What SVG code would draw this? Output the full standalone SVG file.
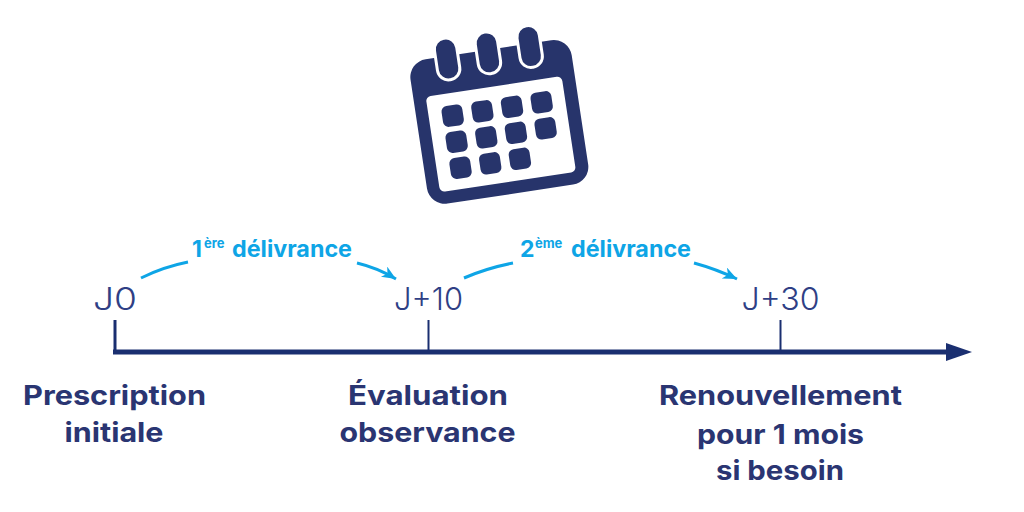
<svg xmlns="http://www.w3.org/2000/svg" width="1024" height="512" viewBox="0 0 1024 512">
<style>
.ink{fill:#27346b}
.cell{fill:#27346b}
.ring{fill:#27346b;stroke:#fff;stroke-width:3}
.day{font-family:"Inter","Liberation Sans",sans-serif;font-weight:300;font-size:31px;fill:#2f3f85;text-anchor:middle}
.step{font-family:"Inter","Liberation Sans",sans-serif;font-weight:700;font-size:27px;fill:#2a3572;text-anchor:middle}
.dose{font-family:"Inter","Liberation Sans",sans-serif;font-weight:700;font-size:23px;fill:#0ea5e6}
.sup{font-size:13px}
.curve{fill:none;stroke:#0ea5e6;stroke-width:3}
.axis{stroke:#1a2f70;fill:none}
</style>
<defs>
<marker id="tip" markerUnits="userSpaceOnUse" markerWidth="18" markerHeight="14" refX="14" refY="6" orient="auto">
<path d="M0 0L14 6L0 12L4 6Z" fill="#0ea5e6"/>
</marker>
<rect id="c" class="cell" x="-10.500" y="-10.500" width="21" height="21" rx="5.500"/>
</defs>

<g id="calendar" transform="translate(499 123) rotate(-8.6)">
<rect class="ink" x="-81" y="-74" width="163" height="146" rx="18"/>
<rect x="-68.600" y="-37" width="137.500" height="96.700" rx="5" fill="#fff"/>
<rect class="ring" x="-53" y="-92" width="22.500" height="42" rx="11"/>
<rect class="ring" x="-11.700" y="-92" width="22.500" height="42" rx="11"/>
<rect class="ring" x="30.500" y="-92" width="22.500" height="42" rx="11"/>
<use href="#c" x="-44.700" y="-14.100"/><use href="#c" x="-14.700" y="-14.100"/><use href="#c" x="15.300" y="-14.100"/><use href="#c" x="45.300" y="-14.100"/>
<use href="#c" x="-44.700" y="12.200"/><use href="#c" x="-14.700" y="12.200"/><use href="#c" x="15.300" y="12.200"/><use href="#c" x="45.300" y="12.200"/>
<use href="#c" x="-44.700" y="38.500"/><use href="#c" x="-14.700" y="38.500"/><use href="#c" x="15.300" y="38.500"/>
</g>

<g id="connectors">
<path class="curve" d="M141 278Q163 267 188 262"/>
<path class="curve" d="M357 263Q378 268 396 279" marker-end="url(#tip)"/>
<path class="curve" d="M464 278Q487 268 513 263"/>
<path class="curve" d="M694 263Q716 269 737 279" marker-end="url(#tip)"/>
<path class="axis" stroke-width="5" d="M113 352H950"/>
<path class="axis" stroke-width="3" d="M115 320V352"/>
<path class="axis" stroke-width="2" d="M428.500 320V352"/>
<path class="axis" stroke-width="2" d="M780.500 320V352"/>
<path d="M946 343L972 352L946 361Z" fill="#1a2f70"/>
</g>

<g id="dose-1"><text class="dose" x="192" y="257">1<tspan class="sup" x="204" dy="-9">ère</tspan><tspan dy="9" x="232" textLength="120" lengthAdjust="spacingAndGlyphs">délivrance</tspan></text></g>
<g id="dose-2"><text class="dose" x="520" y="257">2<tspan class="sup" x="535" dy="-9">ème</tspan><tspan dy="9" x="571" textLength="120" lengthAdjust="spacingAndGlyphs">délivrance</tspan></text></g>

<g id="j0"><text class="day" x="115" y="310" textLength="44" lengthAdjust="spacingAndGlyphs">J0</text></g>
<g id="j10"><text class="day" x="428.500" y="310" textLength="69" lengthAdjust="spacingAndGlyphs">J+10</text></g>
<g id="j30"><text class="day" x="780.500" y="310" textLength="78" lengthAdjust="spacingAndGlyphs">J+30</text></g>

<g id="prescription"><text class="step" x="114.500" y="405" textLength="183" lengthAdjust="spacingAndGlyphs">Prescription</text><text class="step" x="114" y="442" textLength="99" lengthAdjust="spacingAndGlyphs">initiale</text></g>
<g id="evaluation"><text class="step" x="428" y="405" textLength="160" lengthAdjust="spacingAndGlyphs">Évaluation</text><text class="step" x="427.500" y="442" textLength="176" lengthAdjust="spacingAndGlyphs">observance</text></g>
<g id="renouvellement"><text class="step" x="780.500" y="405" textLength="243" lengthAdjust="spacingAndGlyphs">Renouvellement</text><text class="step" x="780.500" y="444" textLength="167" lengthAdjust="spacingAndGlyphs">pour 1 mois</text><text class="step" x="780" y="480" textLength="128" lengthAdjust="spacingAndGlyphs">si besoin</text></g>
</svg>
